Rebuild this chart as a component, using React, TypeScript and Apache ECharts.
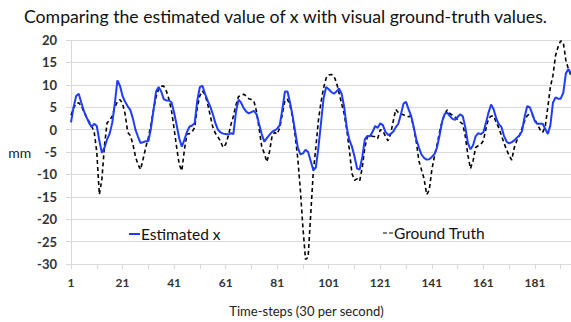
import React, { useEffect, useRef } from "react";
import * as echarts from "echarts";

const TITLE = "Comparing the estimated value of x with visual ground-truth values.";
const X_NAME = "Time-steps (30 per second)";
const Y_NAME = "mm";
const SERIES_NAMES = ["Estimated x", "Ground Truth"];

const Y_MIN = -30;
const Y_MAX = 20;
const Y_STEP = 5;

const estimated = [
  1.6, 5.0, 7.5, 8.0, 6.0, 4.2, 2.8, 1.5, 0.6, 1.3,
  0.8, -2.5, -5.2, -4.0, -2.2, -0.9, 1.5, 5.8, 11.0, 9.8,
  7.5, 6.2, 5.2, 4.4, 2.5, 0.0, -1.6, -3.0, -2.8, -2.6,
  -2.6, 0.2, 4.3, 8.5, 9.5, 8.5, 6.8, 6.5, 6.5, 6.1,
  3.8, 1.0, -2.0, -3.8, -2.3, -0.5, 0.7, 0.9, 1.5, 6.5,
  9.5, 9.8, 8.0, 6.5, 5.2, 3.5, 1.5, 0.0, -0.6, -0.9,
  -1.0, -1.1, -0.8, -1.0, 3.9, 6.7, 6.0, 4.8, 4.0, 3.6,
  3.9, 4.2, 3.4, 1.2, -1.0, -2.7, -1.9, -1.2, -0.5, -0.2,
  0.2, 1.0, 4.5, 8.5, 8.5, 6.0, 3.0, -0.5, -4.0, -5.5,
  -5.3, -4.5, -5.0, -7.0, -9.0, -8.5, -4.0, 1.5, 7.0, 9.5,
  9.0, 8.4, 8.0, 8.5, 9.2, 8.0, 5.0, 0.5, -2.3, -3.8,
  -6.0, -8.7, -8.9, -6.2, -2.2, -1.4, -1.5, -0.5, 0.8, 0.4,
  1.4, 1.0, -0.5, -1.2, -1.0, -0.5, 0.5, 1.3, 3.4, 5.8,
  6.2, 4.5, 3.0, 0.5, -2.2, -4.0, -5.6, -6.3, -6.7, -6.6,
  -6.1, -5.5, -4.0, -1.3, 1.8, 3.5, 3.8, 3.0, 2.4, 2.2,
  2.8, 3.4, 3.0, 0.5, -3.0, -4.4, -3.5, -1.5, -0.8, -1.0,
  -0.6, 1.5, 3.8, 5.6, 4.5, 2.5, 1.2, 0.6, -1.4, -2.7,
  -3.1, -2.8, -2.4, -1.8, -1.3, -0.3, 2.8, 5.2, 5.0, 3.5,
  1.8, 1.3, 1.3, 1.3, 0.2, -1.0, 1.0, 6.0, 7.2, 6.9,
  6.9, 8.2, 12.5, 13.5, 12.5,
];

const groundTruth = [
  3.2, 4.8, 5.8, 6.0, 5.3, 4.0, 2.8, 1.8, 0.8, -0.5,
  -5.0, -14.5, -11.0, -3.5, 1.5, 2.1, 3.0, 5.0, 6.2, 6.7,
  5.8, 3.5, -0.6, -1.3, -3.2, -6.0, -7.8, -8.9, -6.5, -4.0,
  -1.8, 1.0, 4.4, 7.3, 9.0, 9.7, 9.7, 8.6, 6.8, 4.2,
  0.2, -4.0, -7.8, -9.2, -4.5, -1.0, -0.9, -0.5, 0.5, 5.0,
  7.6, 8.6, 7.8, 5.8, 3.2, 0.6, -0.8, -1.6, -2.6, -4.0,
  -3.3, -1.5, 1.0, 3.0, 5.5, 7.4, 7.6, 7.9, 7.5, 6.9,
  6.7, 6.3, 4.0, 0.2, -3.8, -5.3, -7.2, -5.0, -1.5, -0.6,
  -1.0, 0.4, 3.5, 6.5, 6.8, 5.3, 2.8, -1.5, -6.5, -13.5,
  -22.0, -29.0, -28.5, -19.0, -9.5, -4.0, 2.1, 6.1, 9.3, 11.5,
  12.2, 12.3, 12.0, 10.5, 8.2, 5.8, 3.5, 0.0, -4.5, -9.8,
  -11.3, -11.0, -11.5, -8.5, -4.0, -1.6, -1.3, -1.5, -1.6, -2.0,
  0.0, -0.3, -1.5, -2.5, -1.0, 1.8, 4.5, 3.8, 3.5, 3.3,
  3.0, 2.9, 3.0, 0.2, -2.8, -7.0, -9.0, -11.0, -14.5, -13.5,
  -9.0, -6.0, -3.5, -0.5, 1.8, 3.5, 4.4, 3.6, 3.2, 2.8,
  2.3, 1.7, 1.2, -1.5, -5.7, -8.7, -7.0, -4.0, -3.6, -3.3,
  -2.5, 0.2, 2.5, 3.0, 3.0, 1.6, 0.4, -1.3, -3.0, -4.5,
  -5.8, -6.8, -4.0, -2.4, -1.3, 0.3, 2.0, 3.1, 3.5, 3.3,
  2.2, 1.1, 0.0, -0.6, 0.6, 5.0, 9.5, 12.1, 16.5, 18.5,
  19.8, 19.5, 15.5, 13.5, 12.0,
];

const timeSteps = estimated.map((_, i) => String(i + 1));

const FONT = "Lato, 'Open Sans', sans-serif";

export default function App() {
  const ref = useRef<HTMLDivElement>(null);

  useEffect(() => {
    if (!ref.current) return;
    const chart = echarts.init(ref.current, undefined, { renderer: "svg" });
    chart.setOption({
      animation: false,
      backgroundColor: "#ffffff",
      textStyle: { fontFamily: FONT },
      title: {
        text: TITLE,
        left: "center",
        top: 2,
        textStyle: { fontSize: 17.7, fontWeight: "normal", color: "#111", fontFamily: FONT },
      },
      legend: [
        {
          data: [SERIES_NAMES[0]],
          left: 124,
          top: 221,
          icon: "rect",
          itemWidth: 11,
          itemHeight: 2,
          itemGap: 0,
          textStyle: { fontSize: 15.5, color: "#111", fontFamily: FONT, padding: [0, 0, 0, -4] },
        },
        {
          data: [SERIES_NAMES[1]],
          left: 378,
          top: 220,
          icon: "path://M0 0H4V1H0Z M6 0H10V1H6Z",
          itemWidth: 10,
          itemHeight: 2,
          itemGap: 0,
          textStyle: { fontSize: 15.5, color: "#111", fontFamily: FONT, padding: [0, 0, 0, -4] },
        },
      ],
      grid: { left: 71, top: 40, right: 0, bottom: 57, containLabel: false },
      xAxis: {
        type: "category",
        data: timeSteps,
        boundaryGap: false,
        name: X_NAME,
        nameLocation: "middle",
        nameGap: 40,
        nameTextStyle: { fontSize: 13, color: "#222", fontFamily: FONT, padding: [0, 29, 0, 0] },
        axisLine: { onZero: false, lineStyle: { color: "#d9d9d9", width: 1 } },
        axisTick: { show: true, interval: 9, length: 5, lineStyle: { color: "#d9d9d9" } },
        axisLabel: { interval: 19, fontSize: 12, color: "#333", margin: 12, fontWeight: "bold" },
        splitLine: { show: false },
      },
      yAxis: {
        type: "value",
        min: Y_MIN,
        max: Y_MAX,
        interval: Y_STEP,
        name: Y_NAME,
        nameLocation: "middle",
        nameRotate: 0,
        nameGap: 39,
        nameTextStyle: { fontSize: 14, color: "#222", fontFamily: FONT, padding: [6, 0, 0, 0] },
        axisLine: { show: true, lineStyle: { color: "#d9d9d9", width: 1 } },
        axisTick: { show: true, length: 5, lineStyle: { color: "#d9d9d9" } },
        axisLabel: { fontSize: 13, color: "#333", margin: 14, fontWeight: "bold" },
        splitLine: { show: true, lineStyle: { color: "#d9d9d9", width: 1 } },
      },
      series: [
        {
          name: SERIES_NAMES[0],
          type: "line",
          data: estimated,
          symbol: "none",
          showSymbol: false,
          lineStyle: { color: "#1f3cff", width: 2 },
          itemStyle: { color: "#1f3cff" },
          z: 3,
        },
        {
          name: SERIES_NAMES[1],
          type: "line",
          data: groundTruth,
          symbol: "none",
          showSymbol: false,
          lineStyle: { color: "#000000", width: 1.6, type: [4, 3] },
          itemStyle: { color: "#000000" },
          z: 2,
        },
      ],
    });
    return () => chart.dispose();
  }, []);

  return (
    <div
      ref={ref}
      style={{ position: "absolute", left: 0, top: 0, width: 571, height: 322 }}
    />
  );
}
